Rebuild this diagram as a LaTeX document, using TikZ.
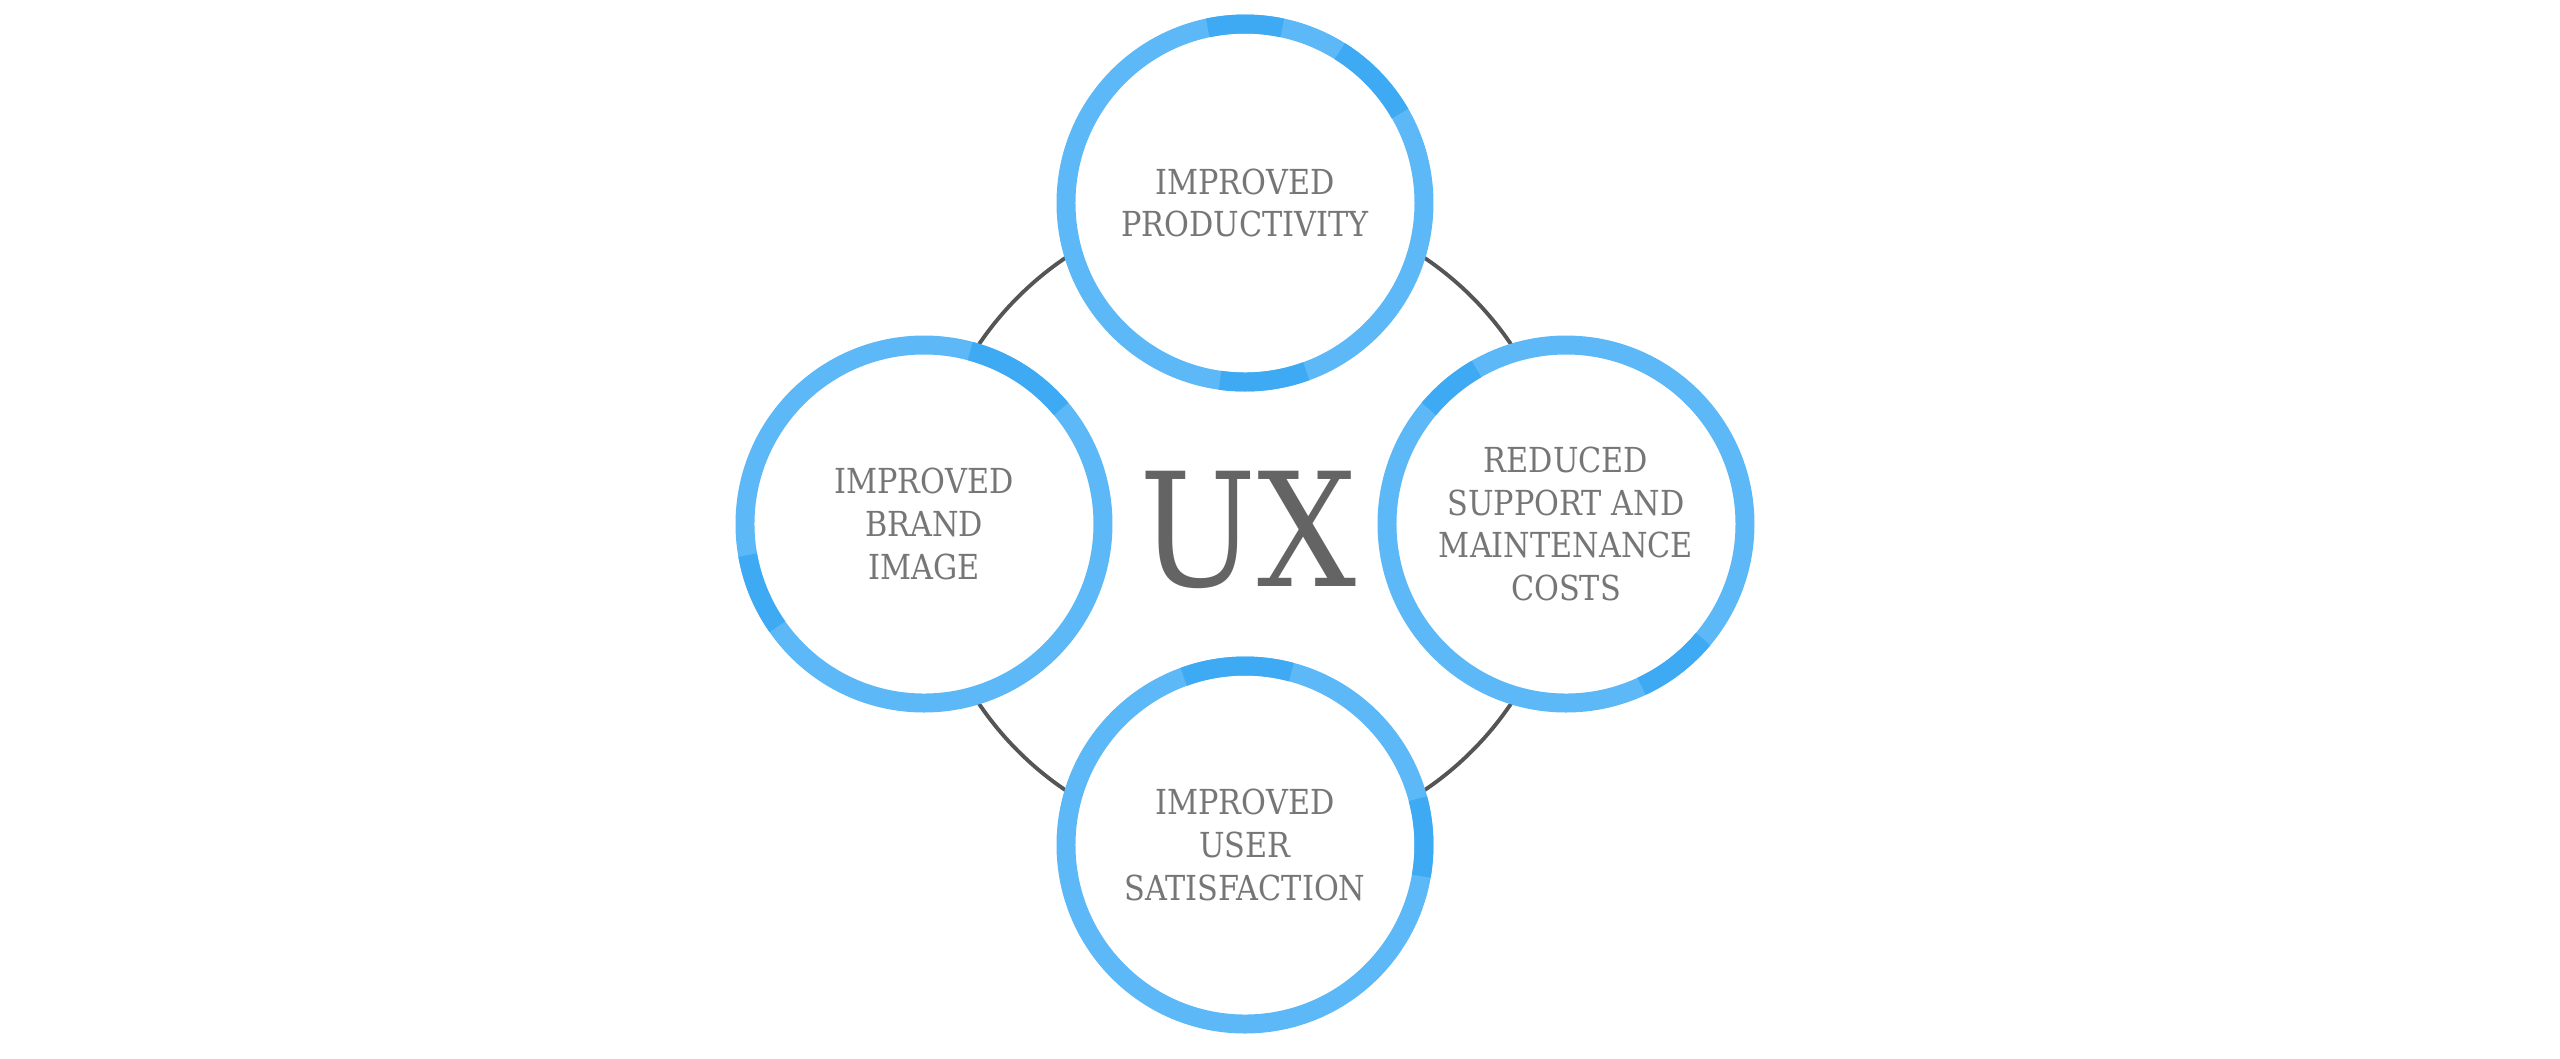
\documentclass[tikz,border=0pt]{standalone}
\usepackage{fontspec}
\setmainfont{DejaVu Serif}[FakeStretch=0.88]
\usepackage{tikz}
\definecolor{ringblue}{RGB}{92,184,246}
\definecolor{ringdark}{RGB}{62,170,243}
\definecolor{linegrey}{RGB}{85,85,85}
\definecolor{textgrey}{RGB}{118,118,118}
\definecolor{uxgrey}{RGB}{100,100,100}
\newcommand{\ringr}{1.79}
\tikzset{
  benefit/.style={circle, draw=ringblue, line width=5.4pt, fill=white,
    minimum size=3.58cm, inner sep=0pt, align=center, text=textgrey,
    font=\fontsize{9.8}{12.2}\selectfont},
  shade/.style={ringdark, line width=5.4pt}
}

\begin{document}
\begin{tikzpicture}
                \useasboundingbox (-12.45,-5.34) rectangle (13.15,5.24);
                \node[text=uxgrey, font=\fontsize{45}{45}\selectfont] (ux) at (0.03,-0.06) {UX};
                \draw[linegrey, line width=1.1pt] (0,0) circle (3.21);

                \node[benefit] (prod) at (0,3.21) {IMPROVED\\PRODUCTIVITY};
                \node[benefit] (brand) at (-3.21,0) {IMPROVED\\BRAND\\IMAGE};
                \node[benefit] (cost) at (3.21,0) {REDUCED\\SUPPORT AND\\MAINTENANCE\\COSTS};
                \node[benefit] (user) at (0,-3.21) {IMPROVED\\USER\\SATISFACTION};

                % darker bits of the rings
                \draw[shade] ([shift={(prod.center)}]102:\ringr) arc (102:78:\ringr);
                \draw[shade] ([shift={(prod.center)}]58:\ringr) arc (58:30:\ringr);
                \draw[shade] ([shift={(prod.center)}]290:\ringr) arc (290:262:\ringr);
                \draw[shade] ([shift={(brand.center)}]75:\ringr) arc (75:40:\ringr);
                \draw[shade] ([shift={(brand.center)}]215:\ringr) arc (215:190:\ringr);
                \draw[shade] ([shift={(cost.center)}]140:\ringr) arc (140:120:\ringr);
                \draw[shade] ([shift={(cost.center)}]320:\ringr) arc (320:295:\ringr);
                \draw[shade] ([shift={(user.center)}]110:\ringr) arc (110:75:\ringr);
                \draw[shade] ([shift={(user.center)}]15:\ringr) arc (15:-10:\ringr);
\end{tikzpicture}
\end{document}
